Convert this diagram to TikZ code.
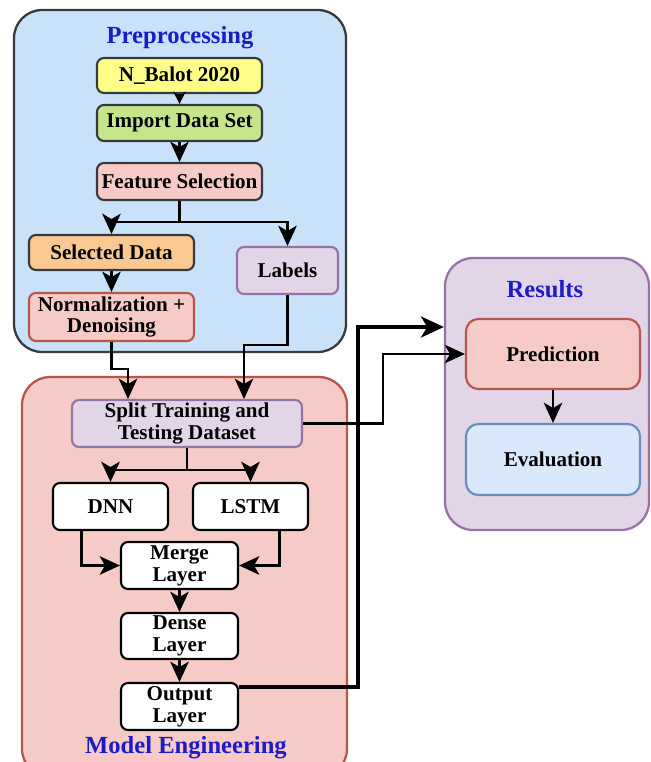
\documentclass[tikz,border=0pt]{standalone}
\usepackage{fontspec}
\setmainfont{Liberation Serif}
\usetikzlibrary{arrows.meta,calc}

\definecolor{prepblue}{HTML}{C9E2FA}
\definecolor{darkline}{HTML}{36393D}
\definecolor{pinkfill}{HTML}{F6CAC7}
\definecolor{redline}{HTML}{B85450}
\definecolor{lavfill}{HTML}{E1D5E7}
\definecolor{lavline}{HTML}{9673A6}
\definecolor{yellowfill}{HTML}{FFFF88}
\definecolor{greenfill}{HTML}{C5E58C}
\definecolor{orangefill}{HTML}{FAC891}
\definecolor{evalfill}{HTML}{DAE8FC}
\definecolor{evalline}{HTML}{6C8EBF}
\definecolor{titleblue}{HTML}{1B1BC8}

\tikzstyle{group} = [draw, line width=1.3pt, rounded corners=16pt]
\tikzstyle{title} = [font=\fontsize{14}{15}\selectfont\bfseries, text=titleblue]
\tikzstyle{stepbox} = [draw=darkline, line width=1.2pt, rounded corners=4pt, align=center,
	font=\fontsize{12}{12.5}\selectfont\bfseries, inner sep=0pt]
\tikzstyle{arrow} = [line width=1.6pt, -{Stealth[length=11.5pt,width=10.5pt,inset=3pt]}]
\tikzstyle{line} = [line width=1.6pt]

\begin{document}
\begin{tikzpicture}[x=0.02cm,y=-0.02cm]
	\useasboundingbox (0,0) rectangle (651,762);
	\clip (0,0) rectangle (651,762);
	% groups
	\node[group, draw=darkline, fill=prepblue, minimum width=332*0.02cm, minimum height=342*0.02cm] (prep) at (180,181) {};
	\node[group, draw=redline, fill=pinkfill, minimum width=325*0.02cm, minimum height=400*0.02cm] (model) at (184.5,577) {};
	\node[group, draw=lavline, fill=lavfill, minimum width=204*0.02cm, minimum height=272*0.02cm] (results) at (547,394) {};
	\node[title] (preptitle) at (180,38) {Preprocessing};
	\node[title] (modeltitle) at (186,748) {Model Engineering};
	\node[title] (restitle) at (545,289) {Results};
	% preprocessing
	\node[stepbox, fill=yellowfill, minimum width=165*0.02cm, minimum height=35*0.02cm] (nbalot) at (179.5,75.5) {N\_Balot 2020};
	\node[stepbox, fill=greenfill, minimum width=165*0.02cm, minimum height=36*0.02cm] (import) at (179.5,123) {Import Data Set};
	\node[stepbox, fill=pinkfill, minimum width=165*0.02cm, minimum height=37*0.02cm] (feature) at (179.5,181.5) {Feature Selection};
	\node[stepbox, fill=orangefill, minimum width=165*0.02cm, minimum height=35*0.02cm] (selected) at (111.5,252.5) {Selected Data};
	\node[stepbox, draw=lavline, fill=lavfill, minimum width=101*0.02cm, minimum height=47*0.02cm] (labels) at (287.5,270.5) {Labels};
	\node[stepbox, draw=redline, fill=pinkfill, minimum width=165*0.02cm, minimum height=48*0.02cm] (norm) at (111.5,317) {Normalization +\\Denoising};
	% model engineering
	\node[stepbox, draw=lavline, fill=lavfill, minimum width=230*0.02cm, minimum height=47*0.02cm] (split) at (187,423.5) {Split Training and\\Testing Dataset};
	\node[stepbox, draw=black, fill=white, minimum width=115*0.02cm, minimum height=47*0.02cm] (dnn) at (110.5,506.5) {DNN};
	\node[stepbox, draw=black, fill=white, minimum width=115*0.02cm, minimum height=47*0.02cm] (lstm) at (250.5,506.5) {LSTM};
	\node[stepbox, draw=black, fill=white, minimum width=117*0.02cm, minimum height=47*0.02cm] (merge) at (179.5,565.5) {Merge\\Layer};
	\node[stepbox, draw=black, fill=white, minimum width=117*0.02cm, minimum height=46*0.02cm] (dense) at (179.5,636) {Dense\\Layer};
	\node[stepbox, draw=black, fill=white, minimum width=117*0.02cm, minimum height=47*0.02cm] (output) at (179.5,706.5) {Output\\Layer};
	% results
	\node[stepbox, draw=redline, fill=pinkfill, rounded corners=7pt, minimum width=174*0.02cm, minimum height=70*0.02cm] (prediction) at (553,354) {Prediction};
	\node[stepbox, draw=evalline, fill=evalfill, rounded corners=7pt, minimum width=174*0.02cm, minimum height=71*0.02cm] (evaluation) at (553,459.5) {Evaluation};

	\coordinate (fsplit) at (179.5,222);
	\coordinate (normbend) at (128,369);
	\coordinate (labbend) at (244,345);
	\coordinate (ssplit) at (187,470);
	\coordinate (outbend) at (358,327);
	\coordinate (splitbend) at (383,354);

	\draw[arrow, -{Stealth[length=7pt,width=7pt]}] (nbalot) -- (import);
	\draw[arrow] (import) -- (feature);
	\draw[line] (feature) -- (fsplit);
	\draw[arrow] (fsplit) -| (selected);
	\draw[arrow] (fsplit) -| (labels);
	\draw[arrow] (selected) -- (norm);
	\draw[arrow] (norm.south) |- (normbend) -- (normbend |- split.north);
	\draw[arrow] (labels.south) |- (labbend) -- (labbend |- split.north);
	\draw[line] (split) -- (ssplit);
	\draw[arrow] (ssplit) -| (dnn);
	\draw[arrow] (ssplit) -| (lstm);
	\draw[arrow] ($(dnn.south west)!0.25!(dnn.south east)$) |- (merge.west);
	\draw[arrow] ($(lstm.south west)!0.75!(lstm.south east)$) |- (merge.east);
	\draw[arrow] (merge) -- (dense);
	\draw[arrow] (dense) -- (output);
	\draw[arrow, line width=2pt, -{Stealth[length=13pt,width=12pt,inset=3.5pt]}] ($(output.north east)!0.1!(output.south east)$) -| (outbend) -- (outbend -| results.west);
	\draw[arrow, line width=1.3pt] (split.east) -| (splitbend) -- (prediction.west);
	\draw[arrow, line width=1.3pt] (prediction) -- (evaluation);
\end{tikzpicture}
\end{document}
